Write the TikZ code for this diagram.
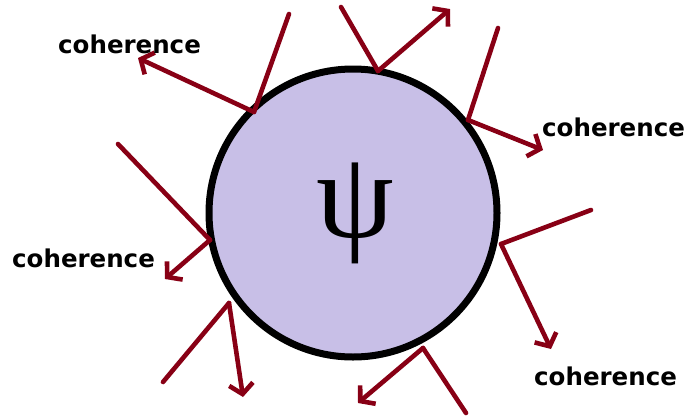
\documentclass[tikz,border=0pt]{standalone}
\usepackage{fontspec}
\setmainfont{Liberation Serif}
\newfontfamily\labelfont{DejaVu Sans}
\usetikzlibrary{arrows.meta}
\definecolor{ray}{HTML}{880015}
\definecolor{lav}{HTML}{C8BFE7}
\tikzset{
  incoming/.style={draw=ray, line width=4.6pt, line cap=round},
  outgoing/.style={draw=ray, line width=4.6pt, line cap=round,
    -{Straight Barb[length=10pt, width=24pt, line width=4.6pt]}},
  cohlabel/.style={anchor=base west, inner sep=0pt, text=black,
    font=\labelfont\bfseries\fontsize{24.5}{26}\selectfont},
}
\begin{document}
\begin{tikzpicture}[x=1pt, y=-1pt]
\useasboundingbox (0,0) rectangle (688,418);
% the state
\node (blob) [circle, draw=black, fill=lav, line width=7pt,
  minimum size=288pt, inner sep=0pt] at (353,213) {};
\node (psi) at (355,213) {\fontsize{124}{124}\selectfont ψ};

% points where rays meet the boundary
\coordinate (h1) at (254,112);
\coordinate (h2) at (378,71);
\coordinate (h3) at (468,120);
\coordinate (h4) at (210,240);
\coordinate (h5) at (501,244);
\coordinate (h6) at (229,303);
\coordinate (h7) at (423,348);

% far ends of incoming rays
\coordinate (s1) at (289,14);
\coordinate (s2) at (341,7);
\coordinate (s3) at (498,28);
\coordinate (s4) at (118,144);
\coordinate (s5) at (591,210);
\coordinate (s6) at (163,382);
\coordinate (s7) at (466,413);

% tips of outgoing rays
\coordinate (t1) at (138,58);
\coordinate (t2) at (450,9);
\coordinate (t3) at (543,150);
\coordinate (t4) at (165,279);
\coordinate (t5) at (551,349);
\coordinate (t6) at (243,397);
\coordinate (t7) at (358,403);

\foreach \i in {1,...,7} {
  \draw[incoming] (s\i) -- (h\i);
  \draw[outgoing] (h\i) -- (t\i);
}

% labels
\node (c1) [cohlabel] at (58,53) {coherence};
\node (c2) [cohlabel] at (542,136) {coherence};
\node (c3) [cohlabel] at (12,267) {coherence};
\node (c4) [cohlabel] at (534,385) {coherence};
\end{tikzpicture}
\end{document}
